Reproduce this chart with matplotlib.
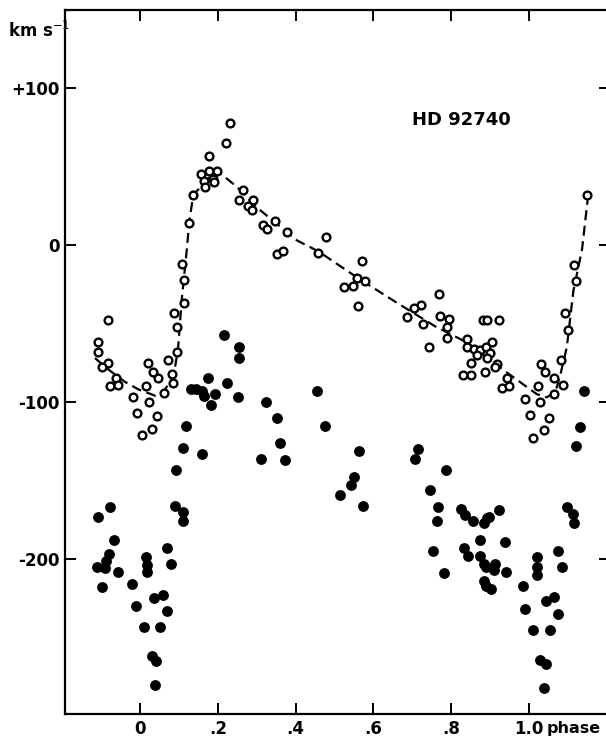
# ── HD 92740 radial velocity curve ──────────────────────────────────────
import numpy as np
import matplotlib
matplotlib.use("Agg")
import matplotlib.pyplot as plt


# ── 1. DATA ─────────────────────────────────────────────────────────────
# open circles
open_phase = [-0.083, -0.107, -0.107, -0.083, -0.097, -0.062, -0.077, -0.057,
              -0.019, 0.015, 0.023, -0.008, 0.043, 0.030, 0.004, 0.021, 0.034,
              0.045, 0.062, 0.084, 0.081, 0.073, 0.094, 0.094, 0.087, 0.113,
              0.113, 0.109, 0.127, 0.135, 0.156, 0.230, 0.221, 0.178, 0.178,
              0.199, 0.165, 0.187, 0.167, 0.190, 0.264, 0.255, 0.290, 0.278,
              0.287, 0.347, 0.377, 0.317, 0.326, 0.353, 0.368, 0.478, 0.458,
              0.570, 0.557, 0.578, 0.547, 0.523, 0.561, 0.769, 0.722, 0.703,
              0.686, 0.728, 0.771, 0.793, 0.788, 0.788, 0.742, 0.881, 0.893,
              0.923, 0.841, 0.840, 0.859, 0.874, 0.889, 0.904, 0.866, 0.900,
              0.893, 0.850, 0.917, 0.913, 0.887, 0.830, 0.850, 0.943, 0.930,
              0.949, 0.990, 1.003, 1.011, 1.024, 1.028, 1.039, 1.050, 1.030,
              1.041, 1.063, 1.065, 1.088, 1.081, 1.101, 1.093, 1.120, 1.116,
              1.148]
open_vel = [-48, -62, -68, -75, -78, -85, -90, -89,
            -97, -90, -100, -107, -109, -117, -121, -75, -81,
            -85, -94, -88, -82, -73, -68, -52, -43, -37,
            -22, -12, 14, 32, 45, 78, 65, 57, 47,
            47, 41, 42, 37, 40, 35, 29, 29, 25,
            22, 15, 8, 13, 10, -6, -4, 5, -5,
            -10, -21, -23, -26, -27, -39, -31, -38, -40,
            -46, -50, -45, -47, -52, -59, -65, -48, -48,
            -48, -60, -65, -66, -67, -65, -62, -70, -69,
            -72, -75, -76, -78, -81, -83, -83, -85, -91,
            -90, -98, -108, -123, -90, -100, -118, -110, -76,
            -81, -85, -95, -89, -73, -54, -43, -23, -13,
            32]

# filled dots
filled_phase = [0.216, 0.255, 0.255, 0.174, 0.223, 0.130, 0.144, 0.158, 0.165,
                0.193, 0.182, 0.253, 0.118, 0.111, 0.160, 0.324, 0.353, 0.360,
                0.311, 0.373, 0.454, 0.476, 0.564, 0.550, 0.542, 0.514, 0.572,
                0.714, 0.707, 0.093, 0.090, 0.111, 0.111, -0.077, -0.107, -0.067,
                -0.079, -0.087, -0.111, -0.090, -0.058, -0.099, -0.020, -0.010,
                0.010, 0.015, 0.019, 0.019, 0.037, 0.060, 0.070, 0.079, 0.070,
                0.050, 0.030, 0.041, 0.039, 0.787, 0.746, 0.767, 0.764, 0.754,
                0.782, 0.825, 0.835, 0.857, 0.883, 0.893, 0.898, 0.923, 0.874,
                0.937, 0.833, 0.842, 0.874, 0.883, 0.889, 0.913, 0.910, 0.940,
                0.883, 0.889, 0.902, 0.984, 0.990, 1.011, 1.020, 1.020, 1.020,
                1.044, 1.064, 1.075, 1.084, 1.075, 1.054, 1.028, 1.044, 1.039,
                1.097, 1.114, 1.116, 1.140, 1.131, 1.121]
filled_vel = [-57, -65, -72, -85, -88, -92, -92, -93, -96,
              -95, -102, -97, -115, -129, -133, -100, -110, -126,
              -136, -137, -93, -115, -131, -148, -153, -159, -166,
              -130, -136, -143, -166, -170, -176, -167, -173, -188,
              -197, -201, -205, -206, -208, -218, -216, -230,
              -243, -199, -204, -208, -225, -223, -193, -203, -233,
              -243, -262, -265, -280, -143, -156, -167, -176, -195,
              -209, -168, -172, -176, -177, -174, -173, -169, -188,
              -189, -193, -198, -198, -203, -205, -203, -207, -208,
              -214, -217, -219, -217, -232, -245, -199, -205, -210,
              -227, -224, -195, -205, -235, -245, -264, -267, -282,
              -167, -171, -177, -93, -116, -128]

# dashed mean curve through the open circles
curve_phase = [-0.116, -0.083, -0.040, -0.004, 0.039, 0.064, 0.086, 0.098,
               0.107, 0.120, 0.127, 0.137, 0.163, 0.193, 0.210, 0.249, 0.300,
               0.403, 0.458, 0.566, 0.668, 0.760, 0.840, 0.925, 1.020, 1.045,
               1.067, 1.080, 1.097, 1.114, 1.136, 1.152]
curve_vel = [-72, -79, -87, -92, -96, -92, -84, -65,
             -35, -3, 16, 32, 39, 47, 45, 37, 24,
             3, -4, -22, -38, -52, -62, -78, -95, -97,
             -94, -83, -65, -29, -3, 32]

xticks = [0, 0.2, 0.4, 0.6, 0.8, 1.0]
xtick_labels = ["0", ".2", ".4", ".6", ".8", "1.0"]
yticks = [100, 0, -100, -200]
ytick_labels = ["+100", "0", "-100", "-200"]


# ── 2. FIGURE ───────────────────────────────────────────────────────────
plt.rcParams["font.family"] = ["DejaVu Sans"]

W, H = 606, 742
fig = plt.figure(figsize=(W / 100, H / 100), dpi=100)
ax = fig.add_axes([65 / W, (H - 714) / H, 545 / W, 704 / H])

ax.plot(curve_phase, curve_vel, color="black", lw=1.6,
        linestyle=(0, (4.5, 2.5)), zorder=1)
ax.plot(open_phase, open_vel, "o", ms=5.6, mfc="white", mec="black",
        mew=1.7, zorder=3)
ax.plot(filled_phase, filled_vel, "o", ms=7.8, mfc="black", mec="black",
        mew=0, zorder=2)

ax.set_xlim(-0.193, 1.208)
ax.set_ylim(-298.7, 149.7)

ax.set_xticks(xticks)
ax.set_xticklabels(xtick_labels)
ax.set_yticks(yticks)
ax.set_yticklabels(ytick_labels)

ax.tick_params(direction="in", length=8, width=1.4, top=True, right=True,
               labelsize=12, pad=4)
for lab in ax.get_xticklabels() + ax.get_yticklabels():
    lab.set_fontweight("bold")

for side in ["left", "bottom", "top"]:
    ax.spines[side].set_linewidth(1.6)
ax.spines["right"].set_visible(False)

ax.text(0.826, 79.6, "HD 92740", fontsize=13, fontweight="bold",
        ha="center", va="center")

# axis word after the last tick label
fig.text(547 / W, 1 - 729 / H, "phase", fontsize=11.5, fontweight="bold",
         ha="left", va="center")

fig.text(8 / W, 1 - 31 / H, "km s$^{-1}$", fontsize=12, fontweight="bold",
         ha="left", va="center")

fig.savefig("out.png", dpi=100)
plt.close()
